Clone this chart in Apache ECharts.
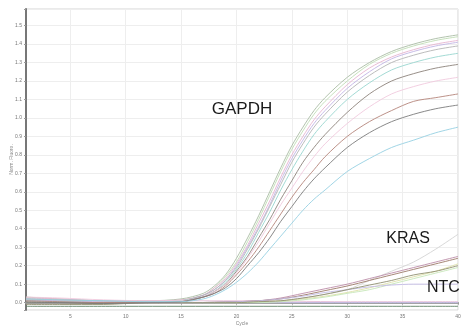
<!DOCTYPE html>
<html>
<head>
<meta charset="utf-8">
<script src="https://cdn.jsdelivr.net/npm/echarts@6/dist/echarts.min.js"></script>
<style>
  html, body { margin: 0; padding: 0; background: #fff; }
  #chart { width: 461px; height: 327px; }
</style>
</head>
<body>
<div id="chart"></div>
<script>
const gapdhCycles = [1, 4, 8, 12, 15, 17, 18, 19, 20, 21, 22, 23, 24, 25, 26, 27, 28, 30, 32, 34, 36, 38, 40];
const krasCycles = [1, 4, 8, 12, 16, 20, 22, 24, 26, 28, 30, 32, 34, 36, 38, 40];
const ntcCycles = [1, 10, 20, 30, 40];

const gapdh = [
  { color: '#a9bca4', values: [0.03, 0.02, 0.01, 0.01, 0.02, 0.05, 0.09, 0.15, 0.24, 0.35, 0.47, 0.60, 0.73, 0.85, 0.95, 1.04, 1.11, 1.22, 1.30, 1.36, 1.40, 1.43, 1.45] },
  { color: '#c0dcb4', values: [0.02, 0.015, 0.01, 0.005, 0.015, 0.04, 0.08, 0.14, 0.22, 0.33, 0.45, 0.58, 0.71, 0.83, 0.93, 1.02, 1.09, 1.20, 1.29, 1.35, 1.39, 1.42, 1.44] },
  { color: '#e6b4d0', values: [0.025, 0.02, 0.01, 0.01, 0.015, 0.04, 0.08, 0.13, 0.21, 0.31, 0.43, 0.55, 0.68, 0.80, 0.90, 0.99, 1.06, 1.18, 1.27, 1.33, 1.37, 1.40, 1.42] },
  { color: '#c2b4e4', values: [0.015, 0.01, 0.005, 0.005, 0.01, 0.04, 0.07, 0.12, 0.20, 0.30, 0.41, 0.53, 0.66, 0.78, 0.88, 0.97, 1.04, 1.16, 1.25, 1.32, 1.36, 1.39, 1.41] },
  { color: '#b4b4b4', values: [0.02, 0.015, 0.01, 0.005, 0.01, 0.04, 0.07, 0.12, 0.19, 0.29, 0.40, 0.52, 0.64, 0.76, 0.86, 0.95, 1.02, 1.14, 1.23, 1.30, 1.34, 1.37, 1.39] },
  { color: '#98d6cf', values: [0.01, 0.005, 0.0, 0.0, 0.01, 0.03, 0.06, 0.11, 0.18, 0.27, 0.38, 0.49, 0.61, 0.72, 0.82, 0.91, 0.98, 1.10, 1.19, 1.26, 1.30, 1.33, 1.35] },
  { color: '#8c827a', values: [0.005, 0.0, 0.0, 0.0, 0.005, 0.03, 0.06, 0.10, 0.17, 0.25, 0.35, 0.45, 0.56, 0.66, 0.76, 0.84, 0.91, 1.03, 1.13, 1.20, 1.24, 1.27, 1.29] },
  { color: '#f0cade', values: [0.03, 0.025, 0.015, 0.01, 0.01, 0.03, 0.06, 0.10, 0.16, 0.24, 0.33, 0.43, 0.53, 0.62, 0.71, 0.79, 0.86, 0.97, 1.06, 1.13, 1.17, 1.20, 1.22] },
  { color: '#b4847a', values: [0.01, 0.005, 0.0, 0.0, 0.005, 0.03, 0.05, 0.09, 0.15, 0.22, 0.30, 0.39, 0.48, 0.57, 0.65, 0.72, 0.79, 0.90, 0.98, 1.04, 1.09, 1.11, 1.13] },
  { color: '#7c7c7c', values: [0.0, 0.0, -0.005, 0.0, 0.005, 0.03, 0.05, 0.08, 0.13, 0.20, 0.27, 0.35, 0.44, 0.52, 0.60, 0.67, 0.73, 0.84, 0.92, 0.98, 1.02, 1.05, 1.07] },
  { color: '#96d0e2', values: [0.02, 0.015, 0.01, 0.005, 0.005, 0.02, 0.04, 0.07, 0.11, 0.16, 0.22, 0.29, 0.36, 0.43, 0.50, 0.56, 0.61, 0.71, 0.78, 0.84, 0.88, 0.92, 0.95] }
];

const kras = [
  { color: '#d4d4d4', values: [0.02, 0.01, 0.0, 0.0, 0.0, 0.0, 0.005, 0.01, 0.025, 0.045, 0.07, 0.12, 0.17, 0.22, 0.29, 0.37] },
  { color: '#bc8ca8', values: [0.01, 0.005, 0.0, 0.0, 0.0, 0.005, 0.01, 0.025, 0.05, 0.075, 0.10, 0.13, 0.16, 0.19, 0.22, 0.25] },
  { color: '#9c7868', values: [0.0, 0.0, -0.005, 0.0, 0.0, 0.005, 0.01, 0.02, 0.04, 0.065, 0.09, 0.12, 0.15, 0.18, 0.21, 0.24] },
  { color: '#dce0a8', values: [0.01, 0.005, 0.0, 0.0, 0.0, 0.0, 0.005, 0.01, 0.02, 0.035, 0.055, 0.08, 0.11, 0.14, 0.17, 0.21] },
  { color: '#c6e6b8', values: [0.0, 0.0, 0.0, 0.0, 0.0, 0.0, 0.0, 0.005, 0.015, 0.03, 0.05, 0.07, 0.10, 0.13, 0.16, 0.19] },
  { color: '#c4bce6', values: [0.01, 0.005, 0.0, 0.0, 0.0, 0.005, 0.01, 0.02, 0.035, 0.055, 0.07, 0.085, 0.095, 0.10, 0.10, 0.10] },
  { color: '#909070', values: [-0.01, -0.01, -0.01, 0.0, 0.0, 0.0, 0.005, 0.01, 0.025, 0.045, 0.07, 0.095, 0.12, 0.15, 0.17, 0.20] }
];

const ntc = [
  { color: '#e6bcd8', values: [0.015, 0.01, 0.01, 0.005, 0.005] },
  { color: '#c8c0ec', values: [0.0, 0.0, 0.0, 0.0, 0.0] },
  { color: '#5e8064', values: [-0.02, -0.02, -0.02, -0.02, -0.02] }
];

// target names and where their labels sit (data coords)
const targetLabels = [
  { text: 'GAPDH', cycle: 20.5, value: 1.045, align: 'center', size: 17 },
  { text: 'KRAS', cycle: 35.5, value: 0.347, align: 'center', size: 16 },
  { text: 'NTC', cycle: 37.2, value: 0.081, align: 'left', size: 16 }
];

const chart = echarts.init(document.getElementById('chart'), null, { renderer: 'canvas' });

const toSeries = (group, cycles) => group.map((g) => ({
  type: 'line',
  data: cycles.map((c, i) => [c, g.values[i]]),
  smooth: 0.3,
  symbol: 'none',
  lineStyle: { width: 0.9, color: g.color },
  animation: false,
  z: 3
}));

const series = [
  ...toSeries(ntc, ntcCycles),
  ...toSeries(kras, krasCycles),
  ...toSeries(gapdh, gapdhCycles)
];

const tickFont = { color: '#777', fontSize: 5, fontFamily: 'Liberation Sans' };

chart.setOption({
  backgroundColor: '#fff',
  animation: false,
  grid: {
    left: 26, right: 3, top: 9, bottom: 17,
    outerBoundsMode: 'none',
    containLabel: false,
    show: true, borderColor: '#d4d4d4', borderWidth: 1
  },
  xAxis: {
    type: 'value',
    min: 1,
    max: 40,
    splitNumber: 8,
    minInterval: 5,
    maxInterval: 5,
    name: 'Cycle',
    nameLocation: 'middle',
    nameGap: 11,
    nameMoveOverlap: false,
    nameTextStyle: { color: '#888', fontSize: 5, fontFamily: 'Liberation Sans' },
    axisLine: { lineStyle: { color: '#a0a0a0', width: 2 } },
    axisTick: { length: 2, lineStyle: { color: '#999' } },
    axisLabel: {
      ...tickFont,
      margin: 4,
      formatter: (v) => (v % 5 === 0 ? String(v) : '')
    },
    splitLine: { lineStyle: { color: '#eeeeee', width: 1 } }
  },
  yAxis: {
    type: 'value',
    min: -0.04,
    max: 1.59,
    splitNumber: 16,
    minInterval: 0.1,
    maxInterval: 0.1,
    name: 'Norm. Fluoro.',
    nameLocation: 'middle',
    nameGap: 12,
    nameMoveOverlap: false,
    nameTextStyle: { color: '#888', fontSize: 5, fontFamily: 'Liberation Sans' },
    axisLine: { show: true, lineStyle: { color: '#777', width: 2 } },
    axisTick: { show: true, length: 2, lineStyle: { color: '#999' } },
    axisLabel: {
      ...tickFont,
      margin: 4,
      formatter: (v) => {
        const r = Math.round(v * 10);
        return Math.abs(v * 10 - r) < 1e-6 && r >= 0 && r <= 15 ? (r / 10).toFixed(1) : '';
      }
    },
    splitLine: { lineStyle: { color: '#eeeeee', width: 1 } }
  },
  series
});

// place the target names from data coordinates
chart.setOption({
  graphic: targetLabels.map((t) => {
    const [px, py] = chart.convertToPixel({ gridIndex: 0 }, [t.cycle, t.value]);
    return {
      type: 'text',
      x: px,
      y: py,
      z: 10,
      style: {
        text: t.text,
        fill: '#1a1a1a',
        font: t.size + 'px "Liberation Sans"',
        align: t.align,
        verticalAlign: 'middle'
      }
    };
  })
});
</script>
</body>
</html>
